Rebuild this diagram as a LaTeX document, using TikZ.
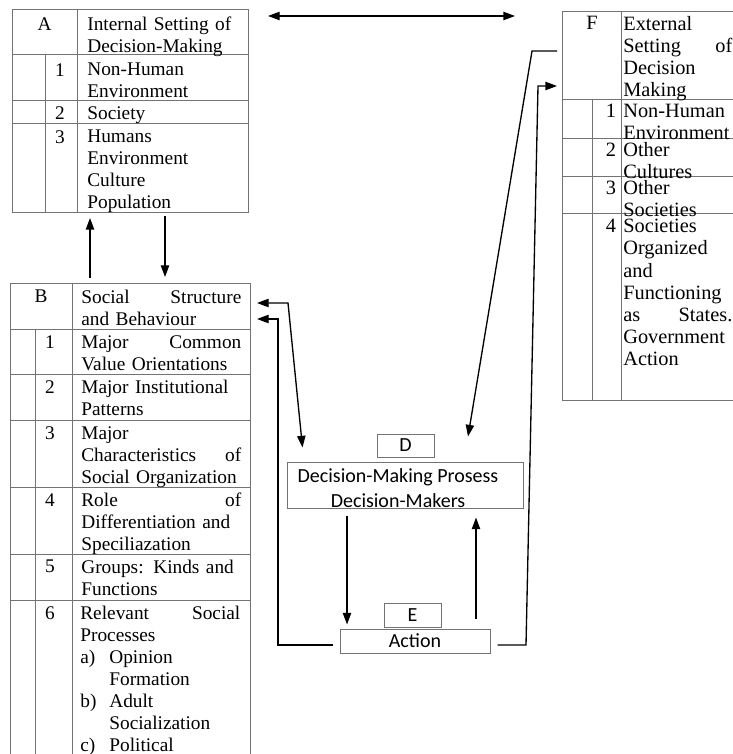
\documentclass[tikz,border=0pt]{standalone}
\usepackage{fontspec}
\setmainfont{Liberation Serif}
\newfontfamily\boxfont{Carlito}
\usetikzlibrary{arrows.meta}
\definecolor{rulegray}{gray}{0.45}
\newcommand{\tabfont}{\fontsize{11.6pt}{13.2pt}\selectfont}
\newcommand{\extfont}{\fontsize{12.2pt}{13.3pt}\selectfont}
\hyphenpenalty=10000 \exhyphenpenalty=10000
\tolerance=10000 \hbadness=10000
\tikzset{
  >={Triangle[length=7pt,width=5pt]},
  tabline/.style={draw=rulegray,line width=0.6pt},
  cell/.style={anchor=north west,inner sep=0pt,align=left,font=\tabfont},
  num/.style={anchor=north,inner sep=0pt,font=\tabfont},
  tagbox/.style={draw=rulegray,line width=0.6pt,inner sep=0pt,align=center,
    font=\boxfont\fontsize{12pt}{15pt}\selectfont},
  flow/.style={->,line width=0.8pt,black}
}
\begin{document}
\begin{tikzpicture}[x=0.6pt,y=-0.6pt]
  \useasboundingbox (0,0) rectangle (732,754);

  % table A: internal setting
  \draw[tabline] (12,10) rectangle (248,213);
  \draw[tabline] (77,10) -- (77,213);
  \draw[tabline] (45,55) -- (45,213);
  \foreach \y in {55,101,124} \draw[tabline] (12,\y) -- (248,\y);
  \node[num] (aA) at (44.5,17) {A};
  \node[cell,text width=93.6pt] (aT) at (87,17) {Internal Setting of\\Decision-Making};
  \node[num] (a1) at (60,63) {1};
  \node[cell,text width=93.6pt] (a1t) at (87,63) {Non-Human\\Environment};
  \node[num] (a2) at (60,106) {2};
  \node[cell,text width=93.6pt] (a2t) at (87,106) {Society};
  \node[num] (a3) at (60,130) {3};
  \node[cell,text width=93.6pt] (a3t) at (87,130) {Humans\\Environment\\Culture\\Population};

  % table B: social structure
  \draw[tabline] (10,284) rectangle (250,780);
  \draw[tabline] (72,284) -- (72,780);
  \draw[tabline] (35,329) -- (35,780);
  \foreach \y in {329,374,420,487,554,600} \draw[tabline] (10,\y) -- (250,\y);
  \node[num] (bB) at (41,290) {B};
  \node[cell,text width=96pt] (bT) at (81,290) {Social\hfill Structure\\and Behaviour};
  \node[num] (b1) at (50,335) {1};
  \node[cell,text width=96pt] (b1t) at (81,335) {Major\hfill Common\\Value Orientations};
  \node[num] (b2) at (50,380) {2};
  \node[cell,text width=96pt] (b2t) at (81,380) {Major Institutional\\Patterns};
  \node[num] (b3) at (50,426) {3};
  \node[cell,text width=96pt] (b3t) at (81,426) {Major\\Characteristics\hfill of\\Social Organization};
  \node[num] (b4) at (50,493) {4};
  \node[cell,text width=96pt] (b4t) at (81,493) {Role\hfill of\\Differentiation and\\Speciliazation};
  \node[num] (b5) at (50,560) {5};
  \node[cell,text width=96pt] (b5t) at (81,560) {Groups: Kinds and\\Functions};
  \node[num] (b6) at (50,606) {6};
  \node[cell,text width=96pt] (b6t) at (80,606) {Relevant\hfill Social\\Processes\\
    \makebox[17.4pt][l]{a)}Opinion\\\hspace*{17.4pt}Formation\\
    \makebox[17.4pt][l]{b)}Adult\\\hspace*{17.4pt}Socialization\\
    \makebox[17.4pt][l]{c)}Political};

  % table F: external setting
  \draw[tabline] (562,12) rectangle (745,400);
  \draw[tabline] (621,12) -- (621,400);
  \draw[tabline] (592,100) -- (592,400);
  \foreach \y in {100,139,177,214} \draw[tabline] (562,\y) -- (745,\y);
  \node[num,font=\extfont] (fF) at (592,16) {F};
  \node[cell,font=\extfont,text width=65.4pt] (fT) at (623,16) {External\\Setting\hfill of\\Decision\\Making};
  \node[num,font=\extfont] (f1) at (611,104) {1};
  \node[cell,font=\extfont,text width=65.4pt] (f1t) at (623,104) {Non-Human\\Environment};
  \node[num,font=\extfont] (f2) at (611,143) {2};
  \node[cell,font=\extfont,text width=65.4pt] (f2t) at (623,142) {Other\\Cultures};
  \node[num,font=\extfont] (f3) at (611,181) {3};
  \node[cell,font=\extfont,text width=65.4pt] (f3t) at (623,180) {Other\\Societies};
  \node[num,font=\extfont] (f4) at (611,219) {4};
  \node[cell,font=\extfont,text width=65.4pt] (f4t) at (623,219) {Societies\\Organized\\and\\Functioning\\as\hfill States.\\Government\\Action};

  % decision-making and action
  \node[tagbox,minimum width=34.2pt,minimum height=13.8pt] (dtag) at (405.5,445.5) {D};
  \node[tagbox,minimum width=141.6pt,minimum height=27.6pt] (dbox) at (405,485) {};
  \node[inner sep=0pt,align=center,font=\boxfont\fontsize{12pt}{15pt}\selectfont] (dtext) at (398,488) {Decision-Making Prosess\\Decision-Makers};
  \node[tagbox,minimum width=34.2pt,minimum height=14.4pt] (etag) at (412.5,615) {E};
  \node[tagbox,minimum width=90pt,minimum height=14.4pt] (actbox) at (415,641) {Action};

  % connectors
  \coordinate (topL) at (268,16);
  \coordinate (topR) at (515,16);
  \draw[flow,<->] (topL) -- (topR);
  \coordinate (aUp) at (90,218);
  \coordinate (bUp) at (90,278);
  \draw[flow] (bUp) -- (aUp);
  \coordinate (aDn) at (165,216);
  \coordinate (bDn) at (165,277);
  \draw[flow] (aDn) -- (bDn);
  \coordinate (bIn1) at (257,303);
  \coordinate (bIn2) at (257,319);
  \draw[flow,<->] (bIn1) -- (288,303) -- ([shift={(16,-14)}]dbox.north west);
  \draw[flow] ([shift={(-7,4)}]actbox.west) -- (278,645) -- (278,319) -- (bIn2);
  \coordinate (fOut) at (557,51);
  \coordinate (fIn) at (557,86);
  \draw[flow] (fOut) -- (532,51) -- ([shift={(63,-25)}]dbox.north);
  \draw[flow] ([shift={(7,4)}]actbox.east) -- (526,645) -- (538,86) -- (fIn);
  \draw[flow] ([shift={(-58,7)}]dbox.south) -- ([shift={(-68,-4)}]actbox.north);
  \draw[flow] ([shift={(61,-10)}]actbox.north) -- ([shift={(71,9)}]dbox.south);
\end{tikzpicture}
\end{document}
